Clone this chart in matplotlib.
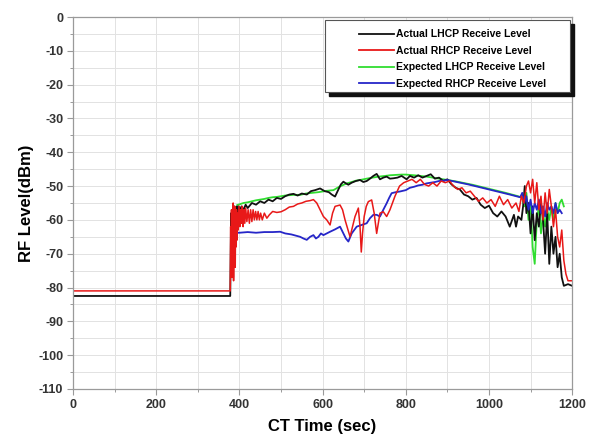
import matplotlib
matplotlib.use("Agg")
import matplotlib.pyplot as plt
from matplotlib.patches import Rectangle
from matplotlib.ticker import MultipleLocator

plt.rcParams['font.family'] = ['Liberation Sans', 'DejaVu Sans']
plt.rcParams['axes.unicode_minus'] = False

# ---------------- data ----------------
black_t = [0, 378, 380, 381, 382, 383, 384, 385, 386, 387, 388, 389, 390, 392, 394, 396, 398, 400, 405,
           410, 415, 420, 430, 440, 450, 460, 470, 480, 490, 500, 510, 520, 530, 540, 550, 562, 572,
           582, 594, 605, 615, 622, 630, 638, 644, 650, 656, 662, 670, 680, 690, 698, 706, 714, 722,
           730, 738, 746, 754, 762, 770, 780, 790, 802, 810, 820, 830, 840, 850, 860, 870, 880, 890,
           900, 910, 920, 930, 940, 950, 960, 970, 980, 990, 1000, 1010, 1020, 1030, 1040, 1050, 1060,
           1065, 1070, 1078, 1082, 1086, 1090, 1095, 1100, 1105, 1110, 1115, 1120, 1125, 1130, 1135,
           1140, 1145, 1150, 1155, 1160, 1165, 1170, 1175, 1180, 1190, 1200]
black_v = [-82.5, -82.5, -58, -70, -60, -74, -62, -77, -60, -68, -56, -65, -57, -62, -56, -59, -56, -57.5, -56,
           -57, -55.5, -56.5, -55, -55.5, -54.5, -55, -54, -54.5, -53.5, -53.8, -53, -52.5, -52.3, -52.8, -52.2, -52.5, -51.5,
           -51.2, -50.7, -51.5, -51.8, -52.5, -53.1, -51, -49.5, -48.7, -49.2, -49.6, -49, -48.5, -48.2, -48.8, -48.5, -47.8, -47,
           -46.4, -48, -47.5, -47.2, -47.8, -47.7, -47.5, -47, -48, -47, -47.5, -46.8, -47.5, -47, -46.5, -47.8, -47.5, -48.5,
           -48, -49.5, -50.5, -51, -52.5, -53, -54, -53.5, -55.5, -56.5, -55.8, -58, -59, -57.5, -59, -62, -58.5,
           -62, -59, -60, -56, -50, -58, -55, -64, -56, -66, -58, -62, -55, -60, -70,
           -58, -73, -62, -70, -65, -74, -70, -77, -79.5, -79, -79.5]

red_t = [0, 378, 379, 380, 381, 382, 383, 384, 385, 386,
         387, 388, 389, 390, 391, 392, 393, 394, 395, 397,
         399, 401, 403, 405, 407, 409, 411, 413, 415, 418,
         421, 424, 427, 430, 433, 436, 439, 442, 445, 448,
         451, 455, 460, 466, 472, 480, 490, 500, 510, 520,
         530, 540, 550, 560, 570, 578, 586, 594, 602, 610,
         618, 624, 630, 642, 648, 654, 660, 666, 672, 678,
         686, 690, 693, 696, 700, 705, 710, 718, 724, 730,
         734, 738, 746, 754, 762, 774, 785, 795, 805, 815,
         825, 835, 845, 855, 865, 875, 885, 895, 905, 915,
         925, 935, 945, 955, 965, 975, 985, 995, 1005, 1015,
         1025, 1035, 1045, 1055, 1065, 1072, 1078, 1084, 1090, 1095,
         1100, 1105, 1110, 1115, 1120, 1125, 1130, 1135, 1140, 1145,
         1150, 1155, 1160, 1165, 1170, 1175, 1180, 1185, 1190, 1200]
red_v = [-81, -81, -62, -74, -57, -77, -60, -72, -55, -78,
         -58, -70, -56, -74, -58, -68, -57, -66, -58, -63,
         -56, -62, -57, -61, -56, -62, -57, -61, -56.5, -60.5,
         -57, -61, -57, -60.5, -57, -60, -57.5, -60, -57.5, -60,
         -58, -60, -58, -59.5, -58.5, -57.5, -57.8, -57.6, -57, -56.2,
         -56, -55.3, -55, -54.5, -54.3, -54, -55, -57, -59, -60,
         -61.5, -58, -56, -55.6, -57, -60, -62.5, -65, -62, -59,
         -56.5, -62, -69.5, -64, -59, -56, -54.6, -54.1, -58, -64,
         -61, -58, -57.6, -59, -57, -53, -50, -49, -48.5, -48,
         -49, -48, -49.5, -50, -49, -50, -48.5, -49, -48.5, -50,
         -51, -50.5, -52, -51.5, -53, -54.5, -53.5, -55, -54, -56,
         -53, -55.5, -54, -56.5, -55, -57.5, -53, -55, -50, -48.5,
         -52, -48, -55, -49, -57, -53, -60, -52, -58, -51,
         -56, -62, -57, -65, -68, -63, -72, -76, -78, -78]

green_t = [395, 400, 410, 420, 430, 440, 450, 460, 470, 480, 490, 500, 510, 520, 530, 546, 560, 575,
           590, 600, 610, 626, 640, 658, 670, 680, 690, 706, 720, 735, 750, 762, 775, 790, 800, 810,
           820, 835, 850, 865, 880, 900, 920, 960, 1000, 1040, 1070, 1080, 1085, 1090, 1095, 1100,
           1105, 1110, 1115, 1120, 1125, 1130, 1135, 1140, 1145, 1150, 1155, 1160, 1165, 1170, 1175, 1180]
green_v = [-55.6, -55.4, -55, -54.8, -54.5, -54.2, -54, -53.8, -53.5, -53.3, -53.2, -53, -52.8, -52.7, -52.6, -52.6, -52.2, -52,
           -51.8, -51.6, -51.4, -51.2, -50.2, -49.2, -48.8, -48.4, -48.2, -47.8, -47.5, -47.2, -47, -46.8, -46.7, -46.6, -46.6, -46.7,
           -46.8, -47, -47.2, -47.5, -47.8, -48.2, -48.6, -49.6, -50.8, -52, -53, -53.5, -56, -52, -60, -55,
           -68, -73, -60, -56, -64, -58, -62, -57, -60, -56, -60, -55, -58, -55, -54, -56]

blue_t = [395, 400, 420, 440, 460, 480, 498, 510, 525, 546, 554, 562, 570, 578, 584, 590, 596, 602, 610,
          618, 630, 642, 650, 656, 662, 670, 682, 694, 706, 714, 722, 730, 738, 746, 754, 760, 766, 776,
          786, 800, 810, 820, 830, 840, 850, 860, 870, 880, 890, 900, 950, 1000, 1050, 1075, 1080, 1085,
          1090, 1095, 1100, 1105, 1110, 1115, 1120, 1125, 1130, 1135, 1140, 1145, 1150, 1155, 1160, 1165,
          1170, 1175]
blue_v = [-63.8, -63.8, -63.6, -63.8, -63.6, -63.6, -63.5, -64, -64.3, -65, -65.5, -65.9, -65, -64.5, -65.5, -65, -64, -64.5, -64,
          -63.5, -62.8, -62, -64, -65.5, -66.4, -64, -62, -61.5, -61, -59.5, -58.5, -58.5, -59, -57, -55.1, -53.5, -52.1, -51.8,
          -51.6, -51.2, -50.5, -50.2, -49.8, -49.6, -49.2, -49, -48.8, -48.5, -48.4, -48.2, -49.5, -51, -52.5, -53.3, -52, -55,
          -53, -57, -54, -58, -55, -57, -54, -58, -56, -59, -55, -57, -56, -58, -55, -58,
          -57, -58]

labels = ["Actual LHCP Receive Level", "Actual RHCP Receive Level",
          "Expected LHCP Receive Level", "Expected RHCP Receive Level"]
x_ticks = [0, 200, 400, 600, 800, 1000, 1200]
y_ticks = [0, -10, -20, -30, -40, -50, -60, -70, -80, -90, -100, -110]

# ---------------- figure ----------------
fig = plt.figure(figsize=(5.96, 4.42), dpi=100)
ax = fig.add_axes([0.1225, 0.12, 0.8375, 0.8415])

c_black, c_red, c_green, c_blue = '#111111', '#e81818', '#30dd30', '#2626c8'
l_green, = ax.plot(green_t, green_v, color=c_green, lw=1.3, zorder=2)
l_black, = ax.plot(black_t, black_v, color=c_black, lw=1.3, zorder=2.1)
l_blue, = ax.plot(blue_t, blue_v, color=c_blue, lw=1.3, zorder=2.2)
l_red, = ax.plot(red_t, red_v, color=c_red, lw=1.1, zorder=2.3)

ax.set_xlim(0, 1200)
ax.set_ylim(-110, 0)
ax.set_xticks(x_ticks)
ax.set_yticks(y_ticks)
ax.xaxis.set_minor_locator(MultipleLocator(100))
ax.yaxis.set_minor_locator(MultipleLocator(5))
ax.grid(True, which='both', color='#e2e2e2', lw=0.7, zorder=0)
ax.set_axisbelow(True)

for s in ax.spines.values():
    s.set_color('#9a9a9a')
    s.set_linewidth(0.9)

ax.tick_params(which='major', length=4, width=0.8, color='#9a9a9a', labelsize=9,
               labelcolor='#333333', pad=3)
ax.tick_params(which='minor', length=2, width=0.7, color='#9a9a9a')
for lab in ax.get_xticklabels() + ax.get_yticklabels():
    lab.set_fontweight('bold')

ax.set_xlabel("CT Time (sec)", fontsize=12, fontweight='bold', labelpad=6)
ax.set_ylabel("RF Level(dBm)", fontsize=12, fontweight='bold', labelpad=3)

# legend box with solid shadow
def ax_x(px):
    return (px - 73) / 499.0

def ax_y(py):
    return (389 - py) / 372.0

x0, x1 = ax_x(325), ax_x(570)
y0, y1 = ax_y(92), ax_y(20)
shadow = Rectangle((x0 + 0.008, y0 - 0.012), x1 - x0, y1 - y0, transform=ax.transAxes,
                   facecolor='#111111', edgecolor='#111111', zorder=4, clip_on=False)
box = Rectangle((x0, y0), x1 - x0, y1 - y0, transform=ax.transAxes,
                facecolor='white', edgecolor='#555555', lw=0.8, zorder=4.1, clip_on=False)
ax.add_patch(shadow)
ax.add_patch(box)

leg = ax.legend([l_black, l_red, l_green, l_blue], labels, loc='upper left',
                bbox_to_anchor=(ax_x(351), ax_y(21)), frameon=False,
                prop={'weight': 'bold', 'size': 7.5}, handlelength=3.3, handletextpad=0.2,
                labelspacing=0.62, borderpad=0.3)
leg.set_zorder(5)
for line in leg.get_lines():
    line.set_linewidth(1.3)

fig.savefig("out.png", dpi=100)
